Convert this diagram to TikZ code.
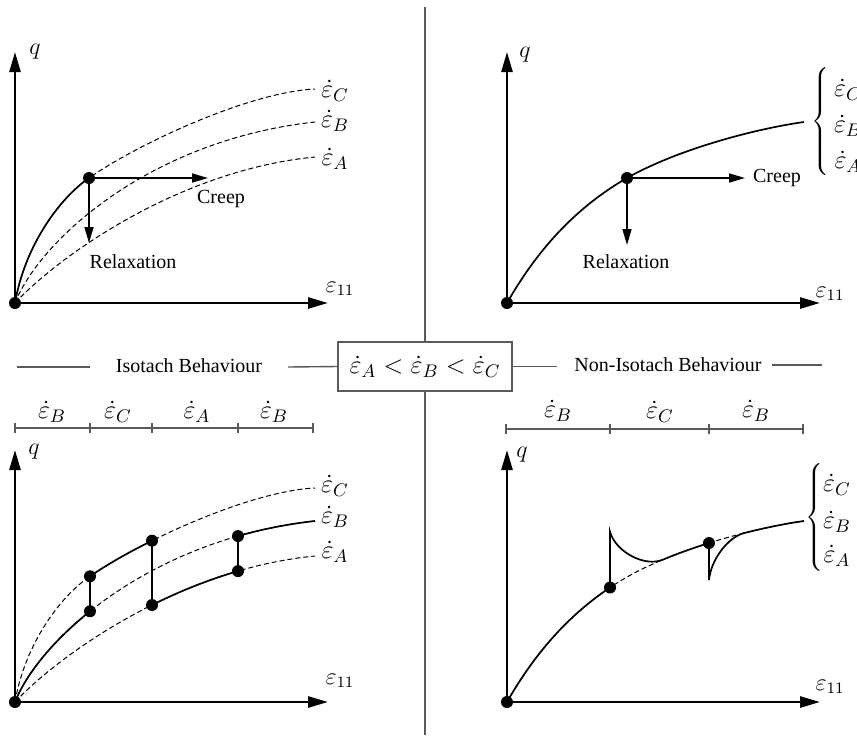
\RequirePackage{fix-cm}
\documentclass[tikz,border=0pt]{standalone}
\usepackage[no-math]{fontspec}
\setmainfont{Liberation Serif}
\usetikzlibrary{arrows.meta,intersections}
\definecolor{sepgray}{RGB}{90,90,90}
\newcommand{\mlabfont}{\fontsize{13}{15}\selectfont}
\newcommand{\axlabfont}{\fontsize{12}{14}\selectfont}
\begin{document}
\begin{tikzpicture}[x=0.5pt,y=-0.5pt,
  axis/.style={line width=1.3pt,-{Triangle[length=10pt,width=5.5pt]}},
  solidc/.style={line width=0.85pt},
  dashc/.style={line width=0.5pt,dash pattern=on 2.5pt off 1.5pt},
  arr/.style={line width=0.8pt,-{Triangle[length=8pt,width=4.5pt]}},
  dot/.style={circle,fill=black,inner sep=0pt,minimum size=6pt},
  sep/.style={line width=0.7pt,draw=sepgray},
  mlab/.style={font=\mlabfont,inner sep=0pt},
  axlab/.style={font=\axlabfont,inner sep=0pt},
  tlab/.style={font=\fontsize{10}{12}\selectfont,inner sep=0pt},
  curveC/.style={insert path={(15,303) .. controls (25,245) and (60,198) .. (89,178) .. controls (139,143) and (250,92) .. (315,89)}},
  curveB/.style={insert path={(15,303) .. controls (40,240) and (150,140) .. (315,122)}},
  curveA/.style={insert path={(15,303) .. controls (60,255) and (180,170) .. (315,157)}},
  curveR/.style={insert path={(507,303) .. controls (540,245) and (580,205) .. (627,178) .. controls (680,148) and (760,128) .. (804,122)}},
]
\useasboundingbox (0,0) rectangle (857,735);

% ---------------- top left ----------------
\draw[dashc,curveC];
\draw[dashc,curveB];
\draw[dashc,curveA];
\begin{scope}
  \clip (0,0) rectangle (89,320);
  \draw[solidc,curveC];
\end{scope}
\node[dot] (tlO) at (15,303) {};
\node[dot] (tlP) at (89,178) {};
\coordinate (tlY) at (15,52);
\coordinate (tlX) at (328,303);
\coordinate (tlCr) at (208,178);
\coordinate (tlRe) at (89,243);
\draw[axis] (tlO.center) -- (tlY);
\draw[axis] (tlO.center) -- (tlX);
\draw[arr] (tlP) -- (tlCr);
\draw[arr] (tlP) -- (tlRe);
\node[axlab] (tlq) at (35,52) {$q$};
\node[axlab] (tle) at (340,289) {$\varepsilon_{11}$};
\node[mlab] (tlc) at (335,91) {$\dot\varepsilon_C$};
\node[mlab] (tlb) at (335,121) {$\dot\varepsilon_B$};
\node[mlab] (tla) at (335,159) {$\dot\varepsilon_A$};
\node[tlab] (tlcreep) at (221,199) {Creep};
\node[tlab] (tlrelax) at (133,262) {Relaxation};

% ---------------- top right ----------------
\draw[solidc,curveR];
\node[dot] (trO) at (507,303) {};
\node[dot] (trP) at (627,178) {};
\coordinate (trY) at (507,52);
\coordinate (trX) at (820,303);
\coordinate (trCr) at (745,178);
\coordinate (trRe) at (627,245);
\draw[axis] (trO.center) -- (trY);
\draw[axis] (trO.center) -- (trX);
\draw[arr] (trP) -- (trCr);
\draw[arr] (trP) -- (trRe);
\node[axlab] (trq) at (525,55) {$q$};
\node[axlab] (tre) at (830,294) {$\varepsilon_{11}$};
\node[inner sep=0pt] (trbr) at (822,123) {$\left\{\vrule height 26pt depth 26pt width 0pt\right.$};
\node[mlab] (trc) at (848,90) {$\dot\varepsilon_C$};
\node[mlab] (trb) at (848,126) {$\dot\varepsilon_B$};
\node[mlab] (tra) at (848,162) {$\dot\varepsilon_A$};
\node[tlab] (trcreep) at (777,178) {Creep};
\node[tlab] (trrelax) at (626,262) {Relaxation};

% ---------------- middle band ----------------
\node[draw=sepgray,line width=0.7pt,minimum width=87pt,minimum height=24.5pt,inner sep=0pt,font=\mlabfont] (rates) at (425,366.5) {$\dot\varepsilon_A<\dot\varepsilon_B<\dot\varepsilon_C$};
\coordinate (vtop) at (425,7);
\coordinate (vbot) at (425,735);
\draw[sep] (vtop) -- (rates.north);
\draw[sep] (rates.south) -- (vbot);
\node[tlab] (iso) at (189,366) {Isotach Behaviour};
\node[tlab] (noniso) at (668,365) {Non-Isotach Behaviour};
\coordinate (l1a) at (17,367);
\coordinate (l1b) at (90,367);
\coordinate (l2a) at (288,367);
\coordinate (l3b) at (557,366.5);
\coordinate (l4a) at (772,365);
\coordinate (l4b) at (822,365);
\draw[sep] (l1a) -- (l1b);
\draw[sep] (l2a) -- (rates.west);
\draw[sep] (rates.east) -- (l3b);
\draw[sep] (l4a) -- (l4b);

% tick bars
\draw[sep] (15,428) -- (313,428);
\foreach \x in {15,90,152,238,313} \draw[sep] (\x,423) -- (\x,433);
\node[mlab] (tk1) at (52,412) {$\dot\varepsilon_B$};
\node[mlab] (tk2) at (118,412) {$\dot\varepsilon_C$};
\node[mlab] (tk3) at (197,412) {$\dot\varepsilon_A$};
\node[mlab] (tk4) at (274,412) {$\dot\varepsilon_B$};
\draw[sep] (506,429) -- (803,429);
\foreach \x in {506,610,709,803} \draw[sep] (\x,424) -- (\x,434);
\node[mlab] (tk5) at (558,411) {$\dot\varepsilon_B$};
\node[mlab] (tk6) at (660,412) {$\dot\varepsilon_C$};
\node[mlab] (tk7) at (756,411) {$\dot\varepsilon_B$};

% ---------------- bottom left ----------------
\begin{scope}[shift={(0,399)}]
  \path[name path=blC,curveC];
  \path[name path=blB,curveB];
  \path[name path=blA,curveA];
  \path[name path=blv1] (90,0) -- (90,320);
  \path[name path=blv2] (152,0) -- (152,320);
  \path[name path=blv3] (238,0) -- (238,320);
  \path[name intersections={of=blC and blv1,by=ic1}];
  \path[name intersections={of=blB and blv1,by=ib1}];
  \path[name intersections={of=blC and blv2,by=ic2}];
  \path[name intersections={of=blA and blv2,by=ia2}];
  \path[name intersections={of=blB and blv3,by=ib3}];
  \path[name intersections={of=blA and blv3,by=ia3}];
  \draw[dashc,curveC];
  \draw[dashc,curveB];
  \draw[dashc,curveA];
  \begin{scope}\clip (0,0) rectangle (90,320); \draw[solidc,curveB]; \end{scope}
  \begin{scope}\clip (90,0) rectangle (152,320); \draw[solidc,curveC]; \end{scope}
  \begin{scope}\clip (152,0) rectangle (238,320); \draw[solidc,curveA]; \end{scope}
  \begin{scope}\clip (238,0) rectangle (330,320); \draw[solidc,curveB]; \end{scope}
  \node[dot] (blO) at (15,303) {};
  \node[dot] (bl1) at (ic1) {};
  \node[dot] (bl2) at (ib1) {};
  \node[dot] (bl3) at (ic2) {};
  \node[dot] (bl4) at (ia2) {};
  \node[dot] (bl5) at (ib3) {};
  \node[dot] (bl6) at (ia3) {};
  \draw[solidc] (bl1.center) -- (bl2.center);
  \draw[solidc] (bl3.center) -- (bl4.center);
  \draw[solidc] (bl5.center) -- (bl6.center);
  \coordinate (blY) at (15,51);
  \coordinate (blX) at (328,303);
  \draw[axis] (blO.center) -- (blY);
  \draw[axis] (blO.center) -- (blX);
  \node[axlab] (blq) at (34,53) {$q$};
  \node[axlab] (ble) at (340,282) {$\varepsilon_{11}$};
  \node[mlab] (blc) at (335,87) {$\dot\varepsilon_C$};
  \node[mlab] (blb) at (335,118) {$\dot\varepsilon_B$};
  \node[mlab] (bla) at (335,153) {$\dot\varepsilon_A$};
\end{scope}

% ---------------- bottom right ----------------
\begin{scope}[shift={(0,399)}]
  \path[name path=brR,curveR];
  \path[name path=brv1] (610,0) -- (610,320);
  \path[name path=brv2] (663,0) -- (663,320);
  \path[name path=brv3] (709,0) -- (709,320);
  \path[name path=brv4] (743,0) -- (743,320);
  \path[name intersections={of=brR and brv1,by=ir1}];
  \path[name intersections={of=brR and brv2,by=m1}];
  \path[name intersections={of=brR and brv3,by=ir2}];
  \path[name intersections={of=brR and brv4,by=m2}];
  \draw[dashc,curveR];
  \begin{scope}\clip (490,0) rectangle (610,320); \draw[solidc,curveR]; \end{scope}
  \begin{scope}\clip (663,0) rectangle (709,320); \draw[solidc,curveR]; \end{scope}
  \begin{scope}\clip (743,0) rectangle (830,320); \draw[solidc,curveR]; \end{scope}
  \node[dot] (brO) at (507,303) {};
  \node[dot] (br1) at (ir1) {};
  \node[dot] (br2) at (ir2) {};
  \path (br1.center) ++(0,-56) coordinate (t1);
  \path (br2.center) ++(0,37) coordinate (t2);
  \draw[solidc] (br1.center) -- (t1) .. controls +(5,20) and +(-18,8) .. (m1);
  \draw[solidc] (br2.center) -- (t2) .. controls +(2,-20) and +(-16,5) .. (m2);
  \coordinate (brY) at (507,51);
  \coordinate (brX) at (820,303);
  \draw[axis] (brO.center) -- (brY);
  \draw[axis] (brO.center) -- (brX);
  \node[axlab] (brq) at (522,56) {$q$};
  \node[axlab] (bre) at (830,288) {$\varepsilon_{11}$};
  \node[inner sep=0pt] (brbr) at (816,120) {$\left\{\vrule height 26pt depth 26pt width 0pt\right.$};
  \node[mlab] (brc) at (837,86) {$\dot\varepsilon_C$};
  \node[mlab] (brb) at (837,123) {$\dot\varepsilon_B$};
  \node[mlab] (bra) at (837,157) {$\dot\varepsilon_A$};
\end{scope}
\end{tikzpicture}
\end{document}
